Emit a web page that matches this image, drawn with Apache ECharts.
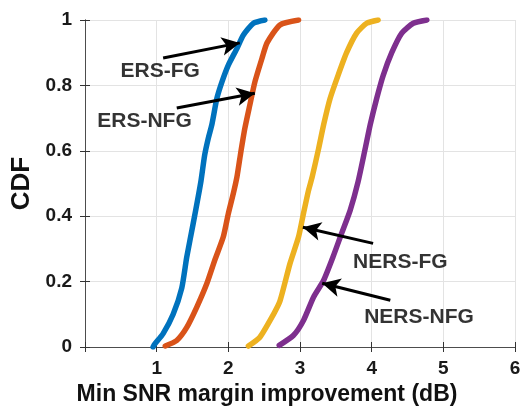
<!DOCTYPE html>
<html>
<head>
<meta charset="utf-8">
<script src="https://cdn.jsdelivr.net/npm/echarts@6/dist/echarts.min.js"></script>
<style>html,body{margin:0;padding:0;background:#fff;}#c{width:520px;height:407px;}</style>
</head>
<body>
<div id="c"></div>
<script>
// Data
const ersFG_x  = [0.95, 0.97, 1.09, 1.23, 1.35, 1.42, 1.51, 1.58, 1.62, 1.67, 1.72, 1.77, 1.84, 1.91, 2.00, 2.12, 2.21, 2.35, 2.51];
const ersFG_y  = [0.000, 0.008, 0.041, 0.100, 0.180, 0.275, 0.378, 0.460, 0.510, 0.587, 0.638, 0.680, 0.760, 0.810, 0.862, 0.913, 0.954, 0.990, 1.000];
const ersNFG_x = [1.12, 1.28, 1.42, 1.56, 1.70, 1.81, 1.93, 2.00, 2.07, 2.12, 2.17, 2.23, 2.30, 2.37, 2.47, 2.54, 2.72, 2.98];
const ersNFG_y = [0.003, 0.020, 0.060, 0.122, 0.194, 0.265, 0.337, 0.408, 0.470, 0.520, 0.590, 0.668, 0.740, 0.810, 0.883, 0.930, 0.985, 1.000];
const nersFG_x = [2.28, 2.44, 2.63, 2.72, 2.86, 2.98, 3.05, 3.12, 3.17, 3.26, 3.33, 3.42, 3.53, 3.65, 3.79, 3.93, 4.09];
const nersFG_y = [0.003, 0.030, 0.100, 0.140, 0.255, 0.337, 0.410, 0.480, 0.520, 0.607, 0.680, 0.760, 0.830, 0.900, 0.960, 0.990, 1.000];
const nersNFG_x = [2.71, 2.91, 3.05, 3.19, 3.33, 3.46, 3.58, 3.70, 3.81, 3.91, 3.98, 4.07, 4.16, 4.28, 4.42, 4.58, 4.77];
const nersNFG_y = [0.005, 0.036, 0.082, 0.153, 0.204, 0.275, 0.347, 0.418, 0.505, 0.607, 0.680, 0.760, 0.830, 0.900, 0.960, 0.990, 1.000];

const seriesNames = ['ERS-FG', 'ERS-NFG', 'NERS-FG', 'NERS-NFG'];
const seriesColors = ['#0072BD', '#D95319', '#EDB120', '#7E2F8E'];

// Annotation labels (data coordinates) and arrows (tail -> head, data coordinates)
const annoText = ['ERS-FG', 'ERS-NFG', 'NERS-FG', 'NERS-NFG'];
const annoTextX = [1.05, 0.83, 4.40, 4.66];
const annoTextY = [0.842, 0.692, 0.260, 0.090];
const arrowFromX = [1.09, 1.28, 4.02, 4.26];
const arrowFromY = [0.884, 0.731, 0.317, 0.143];
const arrowToX = [2.16, 2.37, 3.04, 3.31];
const arrowToY = [0.930, 0.776, 0.366, 0.195];

const xTicks = [0, 6, 1];
const yTicks = [0, 1, 0.2];

const FONT = '"Liberation Sans", Arial, Helvetica, sans-serif';
const zip = (xs, ys) => xs.map((x, i) => [x, ys[i]]);
const allX = [ersFG_x, ersNFG_x, nersFG_x, nersNFG_x];
const allY = [ersFG_y, ersNFG_y, nersFG_y, nersNFG_y];

const chart = echarts.init(document.getElementById('c'), null, {renderer: 'canvas'});

const axisLineStyle = {color: '#4d4d4d', width: 1};
const series = seriesNames.map((n, i) => ({
  name: n, type: 'line', data: zip(allX[i], allY[i]),
  showSymbol: false, symbol: 'none', smooth: 0.2,
  lineStyle: {color: seriesColors[i], width: 5.5, cap: 'round', join: 'round'},
  clip: true, z: 3
}));

series.push({
  type: 'line', data: [], xAxisIndex: 0, yAxisIndex: 0, silent: true,
  markLine: {
    silent: true, symbol: ['none', 'arrow'], symbolSize: [14, 18],
    label: {show: false},
    lineStyle: {color: '#000', width: 3, type: 'solid'},
    animation: false,
    data: arrowFromX.map((x, i) => [{coord: [x, arrowFromY[i]]}, {coord: [arrowToX[i], arrowToY[i]]}])
  },
  z: 5
});

series.push({
  type: 'scatter', symbolSize: 1, silent: true,
  itemStyle: {color: 'rgba(0,0,0,0)'},
  data: annoText.map((t, i) => [annoTextX[i], annoTextY[i], t]),
  label: {show: true, position: 'inside', formatter: p => p.data[2],
    color: '#000', fontSize: 21, fontWeight: 'bold', fontFamily: FONT},
  z: 6
});

chart.setOption({
  animation: false,
  backgroundColor: '#fff',
  grid: {left: 85, right: 5, top: 20, bottom: 60, containLabel: false, outerBoundsMode: 'none'},
  xAxis: [
    {type: 'value', min: xTicks[0], max: xTicks[1], interval: xTicks[2], position: 'bottom',
     name: 'Min SNR margin improvement (dB)', nameLocation: 'middle', nameGap: 34,
     nameTextStyle: {fontSize: 23, fontWeight: 'bold', color: '#111', fontFamily: FONT, padding: [0, 66, 0, 0]},
     axisLine: {show: true, lineStyle: axisLineStyle},
     axisTick: {show: true, inside: true, length: 5, lineStyle: {color: '#333'}},
     axisLabel: {fontSize: 19, fontWeight: 'bold', color: '#1a1a1a', fontFamily: FONT, margin: 12,
       formatter: v => v === 0 ? '' : String(v)},
     splitLine: {show: true, lineStyle: {color: '#e3e3e3', width: 1}}},
    {type: 'value', min: xTicks[0], max: xTicks[1], interval: xTicks[2], position: 'top',
     axisLine: {show: true, lineStyle: axisLineStyle},
     axisTick: {show: true, inside: true, length: 5, lineStyle: {color: '#333'}},
     axisLabel: {show: false}, splitLine: {show: false}}
  ],
  yAxis: [
    {type: 'value', min: yTicks[0], max: yTicks[1], interval: yTicks[2], position: 'left',
     name: 'CDF', nameLocation: 'middle', nameGap: 49,
     nameTextStyle: {fontSize: 26, fontWeight: 'bold', color: '#111', fontFamily: FONT},
     axisLine: {show: true, lineStyle: axisLineStyle},
     axisTick: {show: true, inside: true, length: 5, lineStyle: {color: '#333'}},
     axisLabel: {fontSize: 19, fontWeight: 'bold', color: '#1a1a1a', fontFamily: FONT, margin: 13},
     splitLine: {show: true, lineStyle: {color: '#e3e3e3', width: 1}}},
    {type: 'value', min: yTicks[0], max: yTicks[1], interval: yTicks[2], position: 'right',
     axisLine: {show: true, lineStyle: axisLineStyle},
     axisTick: {show: true, inside: true, length: 5, lineStyle: {color: '#333'}},
     axisLabel: {show: false}, splitLine: {show: false}}
  ],
  series: series
});
</script>
</body>
</html>
